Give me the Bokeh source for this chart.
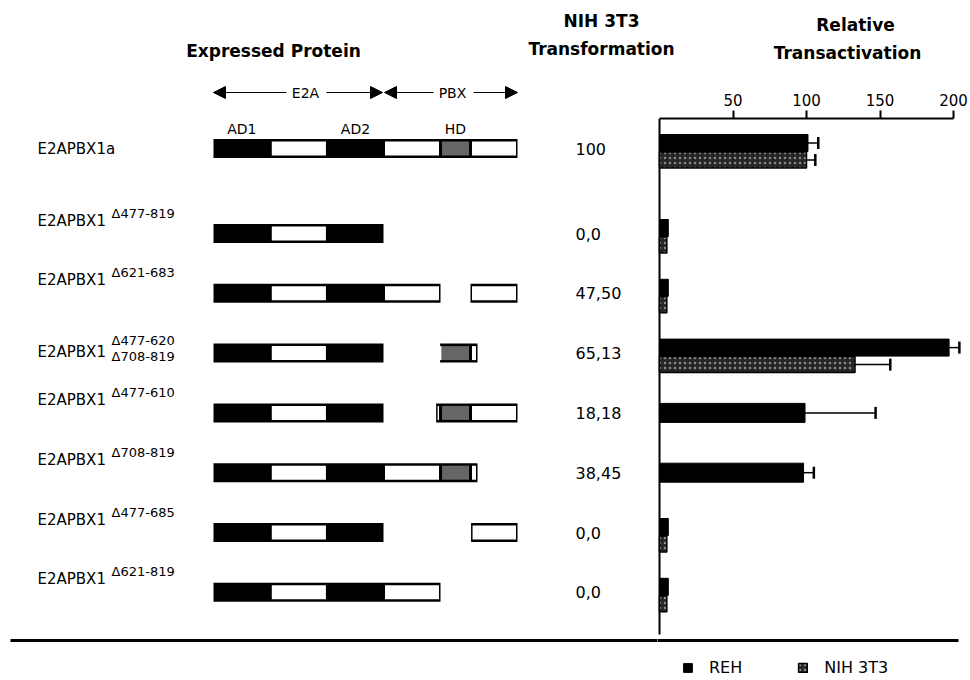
import numpy as np
from bokeh.plotting import figure
from bokeh.layouts import column, row
from bokeh.models import (Range1d, LinearAxis, FixedTicker, Label, Arrow, NormalHead,
                          Whisker, TeeHead, ColumnDataSource, Legend, LegendItem)
from bokeh.embed import file_html
from bokeh.resources import INLINE
from bokeh.core.properties import value

# ---------------- data ----------------
BASE_NAMES = ["E2APBX1a", "E2APBX1", "E2APBX1", "E2APBX1", "E2APBX1", "E2APBX1", "E2APBX1", "E2APBX1"]
SUPERSCRIPTS = ["", "Δ477-819", "Δ621-683", "Δ477-620", "Δ477-610", "Δ708-819", "Δ477-685", "Δ621-819"]
SUBSCRIPTS = ["", "", "", "Δ708-819", "", "", "", ""]
DELETIONS = [[], [(477, 819)], [(621, 683)], [(477, 620), (708, 819)], [(477, 610)],
             [(708, 819)], [(477, 685)], [(621, 819)]]
TRANSFORMATION = ["100", "0,0", "47,50", "65,13", "18,18", "38,45", "0,0", "0,0"]
REH = [101, 6, 6, 197, 99, 98, 6, 6]
REH_ERR = [7, 0, 0, 7, 48, 7, 0, 0]
NIH = [100, 5, 5, 133, np.nan, np.nan, 5, 5]
NIH_ERR = [6, 0, 0, 24, 0, 0, 0, 0]
PROTEIN_LENGTH = 819
FUSION_POINT = 477
DOMAIN_START = [1, 160, 320, 477, 621, 683]
DOMAIN_END = [160, 320, 477, 621, 683, 819]
DOMAIN_KIND = ["AD", "E2A", "AD", "PBX", "HD", "PBX"]
DOMAIN_NAMES = ["AD1", "", "AD2", "", "HD", ""]
TICKS = [50, 100, 150, 200]
SERIES = ["REH", "NIH 3T3"]

# ---------------- layout (page pixels) ----------------
TOTAL_W, TOTAL_H = 968, 678
TOP_H = 80                      # title strip
LEFT_W = 657                    # protein panel width
FRAME_TOP = 118                 # transactivation axis line
RULE_Y, RULE_X0, RULE_X1 = 640, 10, 958
VLINE_END = 634
ROW0_Y, ROW1_Y, ROW_STEP = 148, 233, 59.8
RES_KNOTS = [1, 477, 621, 683, 708, 819]       # schematic (not to scale) residue -> x map
X_KNOTS = [213, 383, 440, 470, 477, 517]
VAL_X0, VAL_PX = 659, 1.47                     # page x of value 0, px per unit
LABEL_X, SUP_X, NUM_X = 37, 111, 575
FONT = "DejaVu Sans"
INK = "black"

n = len(BASE_NAMES)
row_y = np.array([ROW0_Y] + [ROW1_Y + ROW_STEP * k for k in range(n - 1)])


def res_to_x(r):
    return np.interp(r, RES_KNOTS, X_KNOTS)


def page_to_val(px):
    return (px - VAL_X0) / VAL_PX


def bare(fig):
    fig.outline_line_color = None
    fig.grid.visible = False
    fig.frame_align = False
    return fig


# ---------------- title strip ----------------
top = bare(figure(width=TOTAL_W, height=TOP_H, output_backend="svg", toolbar_location=None,
                  x_range=Range1d(0, TOTAL_W), y_range=Range1d(TOP_H, 0),
                  x_axis_location=None, y_axis_location=None, title=None,
                  min_border=0))
TITLES = ["Expressed Protein", "NIH 3T3", "Transformation", "Relative", "Transactivation"]
TITLE_X = [273, 601, 601, 855, 847]
TITLE_Y = [50, 20, 48, 24, 52]
top.text(x=TITLE_X, y=TITLE_Y, text=TITLES, text_align="center", text_baseline="middle",
         text_font=value(FONT), text_font_size="17px", text_font_style="bold", text_color=INK)

# ---------------- protein panel ----------------
left = bare(figure(width=LEFT_W, height=TOTAL_H - TOP_H, output_backend="svg",
                   toolbar_location=None, x_range=Range1d(0, LEFT_W),
                   y_range=Range1d(TOTAL_H, TOP_H), x_axis_location=None,
                   y_axis_location=None, title=None, min_border=0))

blk = dict(l=[], r=[], t=[], b=[])
ins = dict(l=[], r=[], t=[], b=[], c=[])
for i, dels in enumerate(DELETIONS):
    pieces = [(1, PROTEIN_LENGTH)]
    for a, b in dels:
        new = []
        for s, e in pieces:
            if s < a:
                new.append((s, min(e, a)))
            if e > b:
                new.append((max(s, b), e))
        pieces = new
    for s, e in pieces:
        blk["l"].append(res_to_x(s)); blk["r"].append(res_to_x(e))
        blk["t"].append(row_y[i] - 9.5); blk["b"].append(row_y[i] + 9.5)
        for ds, de, kind in zip(DOMAIN_START, DOMAIN_END, DOMAIN_KIND):
            if kind == "AD":
                continue
            os_, oe = max(s, ds), min(e, de)
            if oe > os_:
                ins["l"].append(res_to_x(os_) + 1.5); ins["r"].append(res_to_x(oe) - 1.5)
                ins["t"].append(row_y[i] - 7); ins["b"].append(row_y[i] + 7)
                ins["c"].append("#666666" if kind == "HD" else "white")

left.quad(left="l", right="r", top="t", bottom="b", source=ColumnDataSource(blk),
          fill_color="black", line_color=None)
left.quad(left="l", right="r", top="t", bottom="b", source=ColumnDataSource(ins),
          fill_color="c", line_color=None)

# domain names above the full protein
dn = [(res_to_x((ds + de) / 2), nm) for ds, de, nm in zip(DOMAIN_START, DOMAIN_END, DOMAIN_NAMES) if nm]
left.text(x=[d[0] for d in dn], y=128, text=[d[1] for d in dn], text_align="center",
          text_baseline="middle", text_font=value(FONT), text_font_size="14px", text_color=INK)


# E2A / PBX arrows
def head():
    return NormalHead(size=12, fill_color="black", line_color="black", line_width=1)


e2a_l, e2a_r = res_to_x(1), res_to_x(FUSION_POINT)
pbx_l, pbx_r = res_to_x(FUSION_POINT), res_to_x(PROTEIN_LENGTH)
for cx, txt, x0, x1 in [(305, "E2A", e2a_l, e2a_r - 1), (452, "PBX", pbx_l + 1, pbx_r)]:
    left.add_layout(Label(x=cx, y=92, text=txt, text_align="center", text_baseline="middle",
                          text_font=FONT, text_font_size="14px", text_color=INK))
    left.add_layout(Arrow(end=head(), x_start=cx - 19, y_start=92, x_end=x0, y_end=92,
                          line_width=1.2))
    left.add_layout(Arrow(end=head(), x_start=cx + 21, y_start=92, x_end=x1, y_end=92,
                          line_width=1.2))

# row labels
has_sup = np.array([s != "" for s in SUPERSCRIPTS])
has_sub = np.array([s != "" for s in SUBSCRIPTS])
main_y = row_y + np.where(has_sub, -1, np.where(has_sup, -13, 0))
left.text(x=LABEL_X, y=main_y, text=BASE_NAMES, text_align="left", text_baseline="middle",
          text_font=value(FONT), text_font_size="15px", text_color=INK)
sup_y = row_y + np.where(has_sub, -13, -20.5)
left.text(x=SUP_X, y=sup_y[has_sup], text=[s for s in SUPERSCRIPTS if s], text_align="left",
          text_baseline="middle", text_font=value(FONT), text_font_size="13px", text_color=INK)
left.text(x=SUP_X, y=(row_y + 3)[has_sub], text=[s for s in SUBSCRIPTS if s], text_align="left",
          text_baseline="middle", text_font=value(FONT), text_font_size="13px", text_color=INK)

# transformation numbers
left.text(x=NUM_X, y=row_y, text=TRANSFORMATION, text_align="left", text_baseline="middle",
          text_font=value(FONT), text_font_size="16px", text_color=INK)

# separator rule (left part)
left.segment(x0=RULE_X0, x1=LEFT_W, y0=RULE_Y, y1=RULE_Y, line_width=3, line_color="black")

# ---------------- transactivation panel ----------------
right = bare(figure(width=TOTAL_W - LEFT_W, height=TOTAL_H - TOP_H, output_backend="svg",
                    toolbar_location=None,
                    x_range=Range1d(page_to_val(LEFT_W), page_to_val(TOTAL_W)),
                    y_range=Range1d(TOTAL_H, FRAME_TOP), x_axis_location=None,
                    y_axis_location=None, title=None, min_border_top=FRAME_TOP - TOP_H,
                    min_border_left=0, min_border_right=0, min_border_bottom=0))

ax = LinearAxis(bounds=(0, 200), ticker=FixedTicker(ticks=TICKS),
                axis_line_width=2, major_tick_line_width=2, major_tick_in=0, major_tick_out=8,
                minor_tick_line_color=None, major_label_text_font=FONT,
                major_label_text_font_size="15px", major_label_standoff=5,
                major_label_text_color=INK)
right.add_layout(ax, "above")

# value axis baseline and separator rule
right.segment(x0=0, x1=0, y0=FRAME_TOP, y1=VLINE_END, line_width=2, line_color="black")
right.segment(x0=page_to_val(LEFT_W) - 1, x1=page_to_val(RULE_X1), y0=RULE_Y, y1=RULE_Y,
              line_width=3, line_color="black")

reh = np.array(REH, dtype=float); reh_err = np.array(REH_ERR, dtype=float)
nih = np.array(NIH, dtype=float); nih_err = np.array(NIH_ERR, dtype=float)
pair = ~np.isnan(nih)
reh_y = row_y + np.where(pair, -5.5, 0)
nih_y = row_y + 11.5
reh_src = ColumnDataSource(dict(y=reh_y, h=np.where(pair, 17, 19), v=reh))
r_reh = right.hbar(y="y", height="h", left=0, right="v", source=reh_src,
                   fill_color="black", line_color="black", line_width=1)
nih_src = ColumnDataSource(dict(y=nih_y[pair], v=nih[pair]))
r_nih = right.hbar(y="y", height=16, left=0, right="v", source=nih_src,
                   fill_color="#262626", line_color="black", line_width=1.5,
                   hatch_pattern="dot", hatch_color="#8c8c8c", hatch_scale=5, hatch_weight=1)

m_r = reh_err > 0
m_n = pair & (nih_err > 0)
eb = ColumnDataSource(dict(base=np.concatenate([reh_y[m_r], nih_y[m_n]]),
                           lower=np.concatenate([reh[m_r], nih[m_n]]),
                           upper=np.concatenate([(reh + reh_err)[m_r], (nih + nih_err)[m_n]])))
right.add_layout(Whisker(source=eb, base="base", lower="lower", upper="upper",
                         dimension="width", line_width=1.5, line_color="black",
                         lower_head=None,
                         upper_head=TeeHead(size=12, line_width=2.5, line_color="black")))

legend = Legend(items=[LegendItem(label=SERIES[0], renderers=[r_reh]),
                       LegendItem(label=SERIES[1], renderers=[r_nih])],
                location=(682 - LEFT_W, 1), orientation="horizontal",
                glyph_width=11, glyph_height=11, label_standoff=16, spacing=55,
                padding=0, margin=0, border_line_color=None, background_fill_alpha=0,
                label_text_font=FONT, label_text_font_size="16px", label_text_color=INK)
right.add_layout(legend)

layout = column(top, row(left, right, spacing=0), spacing=0)
open("out.html", "w").write(file_html(layout, INLINE))
